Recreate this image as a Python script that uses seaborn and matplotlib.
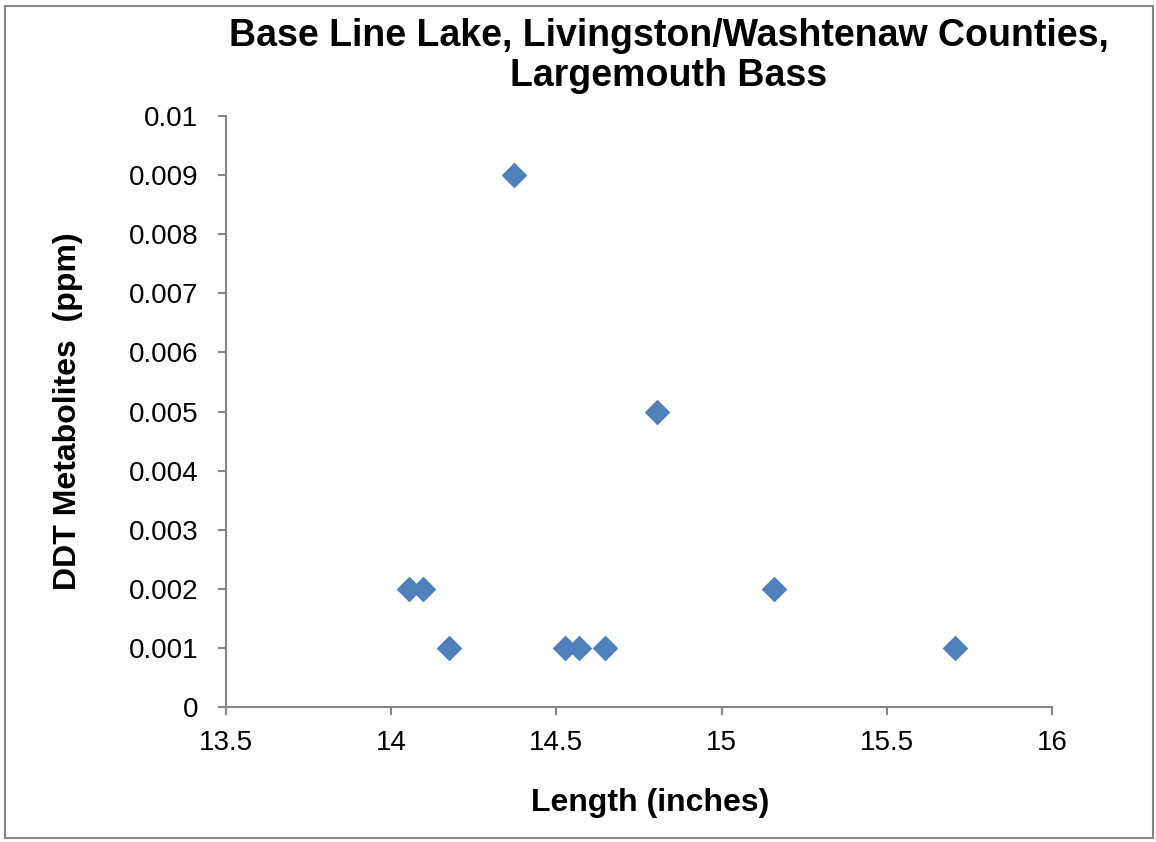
import matplotlib
matplotlib.use("Agg")
import matplotlib.pyplot as plt
import seaborn as sns
import pandas as pd
from matplotlib.patches import Rectangle

length_in = [14.055, 14.095, 14.174, 14.371, 14.526, 14.567, 14.646, 14.804, 15.158, 15.708]
ddt_ppm = [0.002, 0.002, 0.001, 0.009, 0.001, 0.001, 0.001, 0.005, 0.002, 0.001]
x_ticks = [13.5, 14, 14.5, 15, 15.5, 16]
x_tick_labels = ["13.5", "14", "14.5", "15", "15.5", "16"]
y_ticks = [0, 0.001, 0.002, 0.003, 0.004, 0.005, 0.006, 0.007, 0.008, 0.009, 0.01]
y_tick_labels = ["0", "0.001", "0.002", "0.003", "0.004", "0.005", "0.006", "0.007", "0.008", "0.009", "0.01"]
title_lines = ["Base Line Lake, Livingston/Washtenaw Counties,", "Largemouth Bass"]

df = pd.DataFrame({"Length": length_in, "DDT": ddt_ppm})

sns.set_style("white")
plt.rcParams["font.family"] = ["Liberation Sans", "DejaVu Sans"]
plt.rcParams["text.color"] = "black"
plt.rcParams["axes.labelcolor"] = "black"

fig = plt.figure(figsize=(11.56, 8.42), dpi=100)
ax = fig.add_axes([0.1955, 0.1603, 0.7145, 0.7019])

sns.scatterplot(data=df, x="Length", y="DDT", ax=ax, marker="D", s=150,
                color="#4F81BD", edgecolor="#4A7EBB", linewidth=0.8, legend=False)

ax.set_xlim(13.5, 16)
ax.set_ylim(0, 0.01)
ax.set_xticks(x_ticks)
ax.set_xticklabels(x_tick_labels)
ax.set_yticks(y_ticks)
ax.set_yticklabels(y_tick_labels)
ax.tick_params(axis="both", labelsize=20, colors="#868686", labelcolor="black",
               length=6, width=1.5, direction="out", bottom=True, left=True)
ax.tick_params(axis="x", pad=10.5)
ax.tick_params(axis="y", pad=14)
for s in ["top", "right"]:
    ax.spines[s].set_visible(False)
for s in ["left", "bottom"]:
    ax.spines[s].set_color("#868686")
    ax.spines[s].set_linewidth(1.5)

ax.set_xlabel("Length (inches)", fontsize=23, fontweight="bold")
ax.xaxis.set_label_coords(0.513, -0.137)
ax.set_ylabel("DDT Metabolites  (ppm)", fontsize=23, fontweight="bold", labelpad=33)

fig.text(0.5783, 1 - 46 / 842, title_lines[0], ha="center", va="baseline",
         fontsize=27, fontweight="bold")
fig.text(0.5783, 1 - 86 / 842, title_lines[1], ha="center", va="baseline",
         fontsize=27, fontweight="bold")

fig.patches.append(Rectangle((0.004, 0.005), 0.993, 0.988, transform=fig.transFigure,
                             fill=False, edgecolor="#868686", linewidth=1.5))

fig.savefig("out.png", dpi=100)
